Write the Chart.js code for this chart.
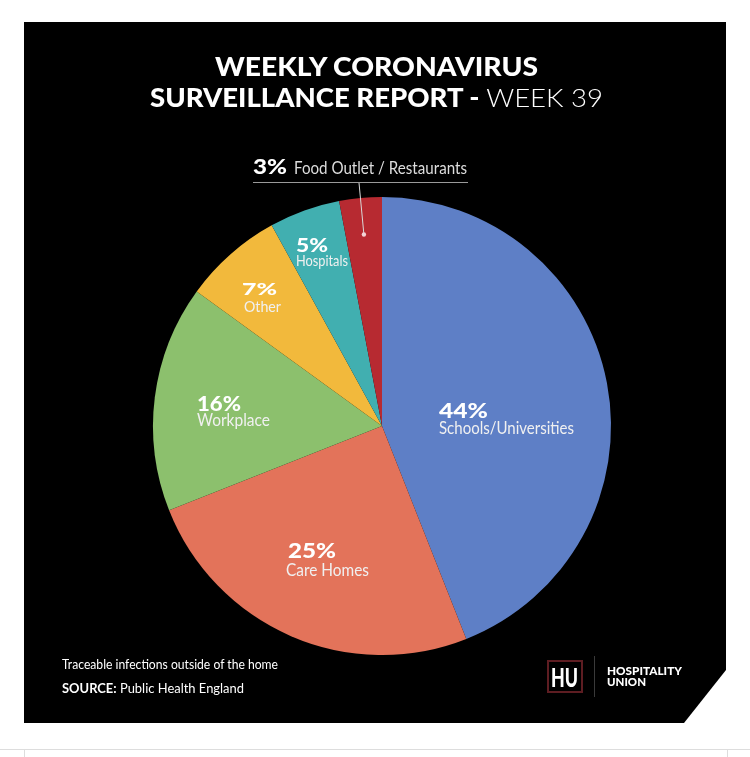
<!DOCTYPE html>
<html>
<head>
<meta charset="utf-8">
<script src="https://cdn.jsdelivr.net/npm/chart.js@4.4.0/dist/chart.umd.min.js"></script>
<style>
  html, body { margin: 0; padding: 0; background: #fff; }
  body { width: 750px; height: 757px; position: relative; overflow: hidden; font-family: Lato, "Open Sans", sans-serif; }
  #panel { position: absolute; left: 24px; top: 22px; width: 702px; height: 701px; background: #000;
    clip-path: polygon(0 0, 100% 0, 100% 648px, 660px 100%, 0 100%); }
  #pie { position: absolute; left: 0; top: 0; }
  .t { position: absolute; white-space: nowrap; line-height: 1; color: #fff; transform-origin: 0 0; }
  .b { font-weight: 900; }
  .n { color: #f0f0f0; }
  .ln { position: absolute; background: #ddd; }
</style>
</head>
<body>
<div id="panel"></div>
<canvas id="pie" width="750" height="757"></canvas>

<div class="t b fit" data-w="323" style="left:215px;top:53px;font-size:26px;">WEEKLY CORONAVIRUS</div>
<div class="t b fit" data-w="453" style="left:150px;top:84px;font-size:26px;">SURVEILLANCE REPORT - <span style="font-weight:300">WEEK 39</span></div>

<div class="t b fit" data-w="34" style="left:253px;top:155px;font-size:21px;">3%</div>
<div class="t fit" data-w="173" style="left:294px;top:159px;font-size:17px;color:#ddd;">Food Outlet / Restaurants</div>
<div style="position:absolute;left:253px;top:182px;width:215px;height:1px;background:#9a9a9a;"></div>

<div class="t b fit" data-w="49" style="left:439px;top:399px;font-size:21px;">44%</div>
<div class="t n fit" data-w="135" style="left:439px;top:420px;font-size:16.5px;">Schools/Universities</div>
<div class="t b fit" data-w="48" style="left:288px;top:539px;font-size:21px;">25%</div>
<div class="t n fit" data-w="83" style="left:286px;top:562px;font-size:16.5px;">Care Homes</div>
<div class="t b fit" data-w="44" style="left:197px;top:392px;font-size:21px;">16%</div>
<div class="t n fit" data-w="73" style="left:197px;top:412px;font-size:16.5px;">Workplace</div>
<div class="t b fit" data-w="35" style="left:242px;top:280px;font-size:17px;">7%</div>
<div class="t n fit" data-w="37" style="left:244px;top:299px;font-size:15px;">Other</div>
<div class="t b fit" data-w="32" style="left:296px;top:235px;font-size:19px;">5%</div>
<div class="t n fit" data-w="52" style="left:296px;top:253px;font-size:15px;">Hospitals</div>

<div class="t fit" data-w="216" style="left:62px;top:658px;font-size:13px;">Traceable infections outside of the home</div>
<div class="t fit" data-w="182" style="left:62px;top:682px;font-size:13px;"><b>SOURCE:</b> Public Health England</div>

<div style="position:absolute;left:547px;top:660px;width:32px;height:29px;border:2px solid #5e1d22;"></div>
<div class="t b fit" data-w="27" style="left:551px;top:663px;font-size:27px;">HU</div>
<div style="position:absolute;left:594px;top:656px;width:1px;height:41px;background:#3a3a3a;"></div>
<div class="t b fit" data-w="75" style="left:607px;top:665px;font-size:12px;">HOSPITALITY</div>
<div class="t b fit" data-w="39" style="left:607px;top:676px;font-size:12px;">UNION</div>

<div class="ln" style="left:0;top:749px;width:750px;height:1px;"></div>
<div class="ln" style="left:24px;top:749px;width:1px;height:8px;"></div>
<div class="ln" style="left:727px;top:749px;width:1px;height:8px;"></div>

<script>
// infections by setting, week 39
var settings = ["Schools/Universities", "Care Homes", "Workplace", "Other", "Hospitals", "Food Outlet / Restaurants"];
var shares = [44, 25, 16, 7, 5, 3];
var colours = ["#5e7fc6", "#e3735a", "#8cc06d", "#f2b93c", "#41afb0", "#b72a31"];

// squeeze text to the widths in the picture
document.querySelectorAll(".fit").forEach(function(el) {
  var w = el.getBoundingClientRect().width;
  el.style.transform = "scaleX(" + (el.dataset.w / w) + ")";
});

// leader from the food outlet slice up to its label
var leader = {
  id: "leader",
  afterDatasetsDraw: function(chart) {
    var arc = chart.getDatasetMeta(0).data[5];
    var mid = (arc.startAngle + arc.endAngle) / 2;
    var dx = Math.cos(mid), dy = Math.sin(mid);
    var r = arc.outerRadius * 0.84;
    var px = arc.x + dx * r, py = arc.y + dy * r;
    var topY = 182;
    var r2 = (topY - arc.y) / dy;
    var ctx = chart.ctx;
    ctx.save();
    ctx.strokeStyle = "#d9d9d9";
    ctx.lineWidth = 1;
    ctx.beginPath();
    ctx.moveTo(px, py);
    ctx.lineTo(arc.x + dx * r2, topY);
    ctx.stroke();
    ctx.fillStyle = "#f4d4d6";
    ctx.beginPath();
    ctx.arc(px, py, 2.2, 0, Math.PI * 2);
    ctx.fill();
    ctx.restore();
  }
};

var ctx = document.getElementById("pie");
var pie = new Chart(ctx, {
  type: "pie",
  data: {
    labels: settings,
    datasets: [{
      data: shares,
      backgroundColor: colours,
      borderWidth: 0
    }]
  },
  options: {
    responsive: false,
    animation: false,
    layout: { padding: { left: 153, right: 139, top: 197, bottom: 102 } },
    plugins: { legend: { display: false }, tooltip: { enabled: false } }
  },
  plugins: [leader]
});
</script>
</body>
</html>
